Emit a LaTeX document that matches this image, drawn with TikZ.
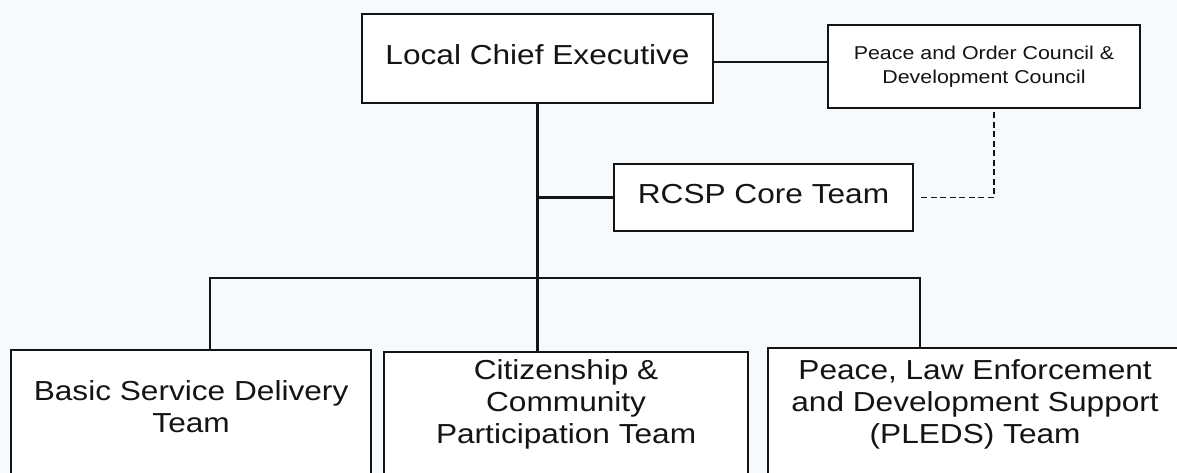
\documentclass[tikz,border=0pt]{standalone}
\usepackage{fontspec}
\setmainfont{Liberation Sans}
\usepackage{graphicx}
\usetikzlibrary{positioning,calc}

\definecolor{paper}{RGB}{246,250,252}
\definecolor{ink}{RGB}{20,20,20}

% text a bit wider than the font, as in the scan
\newcommand{\boxtext}[2][c]{\scalebox{1.15}[1]{\begin{tabular}[#1]{@{}c@{}}#2\end{tabular}}}

\tikzset{
  unit/.style={draw=ink, line width=2.2pt, fill=white, text=ink, inner sep=0pt,
    font=\fontsize{27.5}{32}\selectfont},
  teambox/.style={unit, anchor=north west, text depth=160pt},
  link/.style={draw=ink, line width=2.2pt},
  dotlink/.style={draw=ink, line width=1.9pt, dash pattern=on 6pt off 3.5pt},
}

\begin{document}
\begin{tikzpicture}[x=1pt, y=-1pt]
    \useasboundingbox (0,0) rectangle (1177,473);
    \fill[paper] (0,0) rectangle (1177,473);
    \clip (0,0) rectangle (1177,473);

    % Head and councils
    \node[unit, minimum width=351pt, minimum height=89pt] (lce) at (537.5,58.5) {\boxtext{Local Chief Executive}};
    \node[unit, minimum width=312pt, minimum height=83pt, font=\fontsize{18.6}{24}\selectfont] (poc) at (984,66.5) {\boxtext{Peace and Order Council \&\\Development Council}};
    \node[unit, minimum width=299pt, minimum height=67pt] (rcsp) at (763.5,197.5) {\boxtext{RCSP Core Team}};

    % Teams
    \node[teambox, minimum width=360pt, text height=50pt] (bsd) at (10,349) {\boxtext[t]{Basic Service Delivery\\Team}};
    \node[teambox, minimum width=364pt, text height=27pt] (ccp) at (383,351) {\boxtext[t]{Citizenship \&\\Community\\Participation Team}};
    \node[teambox, minimum width=414pt, text height=31pt] (pleds) at (767,347) {\boxtext[t]{Peace, Law Enforcement\\and Development Support\\(PLEDS) Team}};

    % Lines
    \coordinate (tie) at (770,62);
    \coordinate (busL) at (210,278);
    \coordinate (busR) at (920,278);
    \coordinate (dk) at (994,197.5);
    \draw[link] (lce.east |- tie) -- (poc.west |- tie);
    \draw[link] (lce.south) -- (lce.south |- ccp.north);
    \draw[link] (lce.south |- rcsp.west) -- (rcsp.west);
    \draw[link] (busL |- bsd.north) -- (busL) -- (busR) -- (busR |- pleds.north);
    \draw[dotlink] ([xshift=7pt]rcsp.east) -- (dk) -- (dk |- poc.south); % advisory link

\end{tikzpicture}
\end{document}
